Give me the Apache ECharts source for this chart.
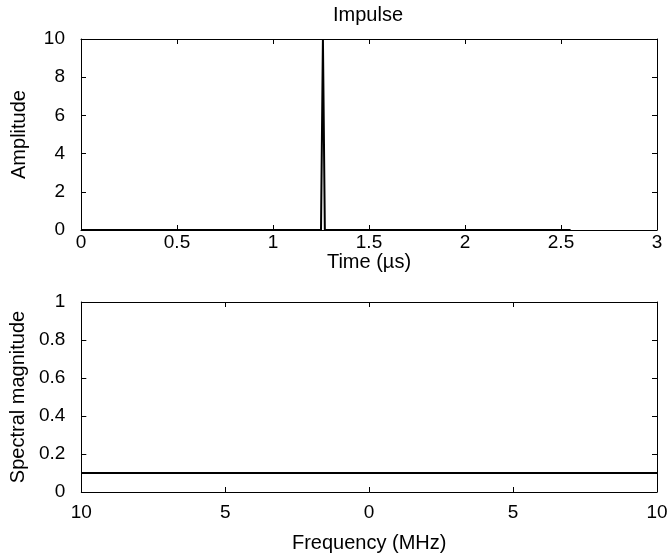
<!DOCTYPE html>
<html>
<head>
<meta charset="utf-8">
<script src="https://cdn.jsdelivr.net/npm/echarts@6/dist/echarts.min.js"></script>
<style>html,body{margin:0;padding:0;background:#fff}#c{width:671px;height:554px}</style>
</head>
<body>
<div id="c"></div>
<script>
// Top panel: impulse in time (µs), key points
const impulseTime = [0, 1.25, 1.26, 1.27, 2.55];
const impulseAmp  = [0, 0, 10, 0, 0];
// Bottom panel: flat spectral magnitude over frequency (MHz)
const specFreq = [-10, 10];
const specMag  = [0.1, 0.1];

const timeTicks = [0, 0.5, 1, 1.5, 2, 2.5, 3];
const ampTicks = [0, 2, 4, 6, 8, 10];
const freqTicks = [-10, -5, 0, 5, 10];
const magTicks = [0, 0.2, 0.4, 0.6, 0.8, 1];

const FONT = 'Liberation Sans, Arial, Helvetica, sans-serif';
const black = '#000';
const TICKFS = 19;
const NAMEFS = 20;

function axisCommon(extra) {
  return Object.assign({
    axisLine: {show: true, onZero: false, lineStyle: {color: black, width: 1}},
    axisTick: {show: true, inside: true, length: 5, lineStyle: {color: black, width: 1}},
    splitLine: {show: false},
    axisLabel: {color: black, fontFamily: FONT, fontSize: TICKFS},
    nameTextStyle: {color: black, fontFamily: FONT, fontSize: NAMEFS}
  }, extra);
}

const chart = echarts.init(document.getElementById('c'), null, {renderer: 'canvas'});
chart.setOption({
  animation: false,
  backgroundColor: '#fff',
  title: {
    text: 'Impulse', left: 368, top: 5, padding: 0, textAlign: 'center',
    textStyle: {color: black, fontFamily: FONT, fontSize: NAMEFS, fontWeight: 'normal'}
  },
  grid: [
    {left: 81, top: 39, width: 576, height: 191, containLabel: false},
    {left: 81, top: 302, width: 576, height: 190, containLabel: false}
  ],
  xAxis: [
    axisCommon({gridIndex: 0, type: 'value', position: 'bottom', min: timeTicks[0], max: timeTicks[timeTicks.length-1], interval: 0.5,
      name: 'Time (\u00b5s)', nameLocation: 'middle', nameGap: 19,
      axisLabel: {color: black, fontFamily: FONT, fontSize: TICKFS, margin: 3, showMinLabel: true, showMaxLabel: true}}),
    axisCommon({gridIndex: 0, type: 'value', position: 'top', min: 0, max: 3, interval: 0.5,
      axisLabel: {show: false}}),
    axisCommon({gridIndex: 1, type: 'value', position: 'bottom', min: freqTicks[0], max: freqTicks[freqTicks.length-1], interval: 5,
      name: 'Frequency (MHz)', nameLocation: 'middle', nameGap: 41,
      axisLabel: {color: black, fontFamily: FONT, fontSize: TICKFS, margin: 11, formatter: v => String(Math.abs(v))}}),
    axisCommon({gridIndex: 1, type: 'value', position: 'top', min: -10, max: 10, interval: 5,
      axisLabel: {show: false}})
  ],
  yAxis: [
    axisCommon({gridIndex: 0, type: 'value', position: 'left', min: ampTicks[0], max: ampTicks[ampTicks.length-1], interval: 2,
      name: 'Amplitude', nameLocation: 'middle', nameGap: 52, nameRotate: 90,
      axisLabel: {color: black, fontFamily: FONT, fontSize: TICKFS, margin: 16}}),
    axisCommon({gridIndex: 0, type: 'value', position: 'right', min: 0, max: 10, interval: 2,
      axisLabel: {show: false}}),
    axisCommon({gridIndex: 1, type: 'value', position: 'left', min: magTicks[0], max: magTicks[magTicks.length-1], interval: 0.2,
      name: 'Spectral magnitude', nameLocation: 'middle', nameGap: 52, nameRotate: 90,
      axisLabel: {color: black, fontFamily: FONT, fontSize: TICKFS, margin: 16}}),
    axisCommon({gridIndex: 1, type: 'value', position: 'right', min: 0, max: 1, interval: 0.2,
      axisLabel: {show: false}})
  ],
  series: [
    {type: 'line', xAxisIndex: 0, yAxisIndex: 0, showSymbol: false, symbol: 'none',
      lineStyle: {color: black, width: 2}, clip: true,
      data: impulseTime.map((t, i) => [t, impulseAmp[i]])},
    {type: 'line', xAxisIndex: 2, yAxisIndex: 2, showSymbol: false, symbol: 'none',
      lineStyle: {color: black, width: 2}, clip: true,
      data: specFreq.map((f, i) => [f, specMag[i]])}
  ]
});
</script>
</body>
</html>
